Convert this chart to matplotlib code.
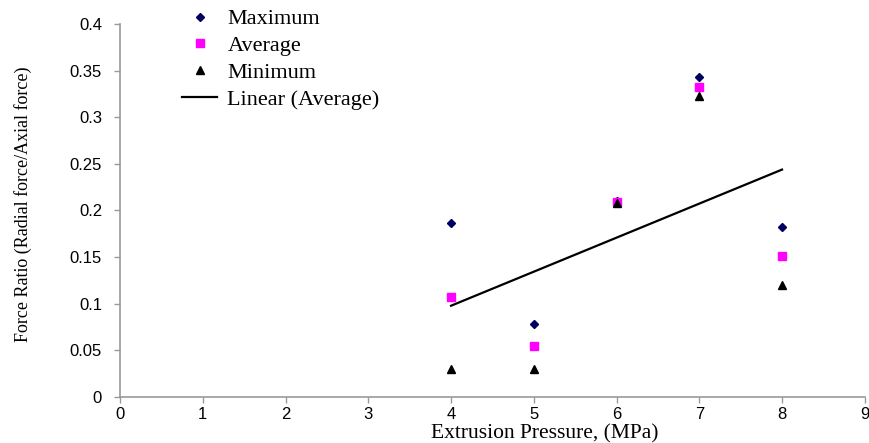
import numpy as np
import matplotlib
matplotlib.use('Agg')
import matplotlib.pyplot as plt

pressure = [4, 5, 6, 7, 8]
maximum = [0.186, 0.078, 0.210, 0.343, 0.182]
average = [0.107, 0.055, 0.209, 0.332, 0.151]
minimum = [0.030, 0.030, 0.208, 0.323, 0.120]

xticks = list(range(0, 10))
yticks = [0, 0.05, 0.1, 0.15, 0.2, 0.25, 0.3, 0.35, 0.4]
ytick_labels = ['0', '0.05', '0.1', '0.15', '0.2', '0.25', '0.3', '0.35', '0.4']

serif = 'Liberation Serif'
sans = 'Liberation Sans'

fig = plt.figure(figsize=(8.7, 4.43), dpi=100)
ax = fig.add_axes([0.138, 0.104, 0.856, 0.842])

ax.plot(pressure, maximum, ls='none', marker='D', ms=4, color='#000060', label='Maximum')
ax.plot(pressure, average, ls='none', marker='s', ms=5.5, color='#ff00ff', label='Average')
ax.plot(pressure, minimum, ls='none', marker='^', ms=5.5, color='black', label='Minimum')

# linear trend of the average series
k, b = np.polyfit(pressure, average, 1)
xs = np.array([pressure[0], pressure[-1]])
ax.plot(xs, k * xs + b, color='black', lw=1.6, label='Linear (Average)')

ax.set_xlim(0, 9)
ax.set_ylim(0, 0.4)
ax.set_xticks(xticks)
ax.set_yticks(yticks)
ax.set_yticklabels(ytick_labels)
for s in ['top', 'right']:
    ax.spines[s].set_visible(False)
for s in ['left', 'bottom']:
    ax.spines[s].set_color('#999999')
    ax.spines[s].set_linewidth(1.2)
ax.tick_params(colors='#999999', length=4, width=1, labelcolor='black', labelsize=12)
ax.tick_params(axis='y', pad=9)
for lab in ax.get_xticklabels() + ax.get_yticklabels():
    lab.set_family(sans)

ax.set_xlabel('Extrusion Pressure, (MPa)', family=serif, fontsize=15.5)
ax.xaxis.set_label_coords(0.57, -0.072, transform=ax.transAxes)
ax.xaxis.label.set_va('top')
ax.set_ylabel('Force Ratio (Radial force/Axial force)', family=serif, fontsize=13)
ax.yaxis.set_label_coords(0.037, 0.54, transform=fig.transFigure)

leg = fig.legend(loc='upper left', bbox_to_anchor=(0.186, 1.025), frameon=False,
                 prop={'family': serif, 'size': 16}, handlelength=1.6,
                 labelspacing=0.28, handletextpad=0.45)

fig.savefig('out.png', dpi=100)
